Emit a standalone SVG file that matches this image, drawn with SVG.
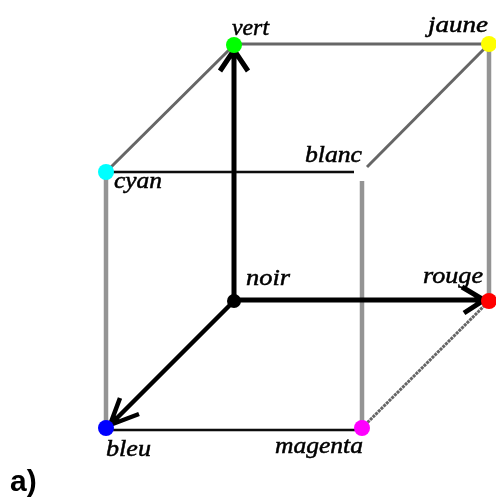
<svg xmlns="http://www.w3.org/2000/svg" width="496" height="497" viewBox="0 0 496 497">
<defs>
<filter id="soft" x="-5%" y="-5%" width="110%" height="110%"><feGaussianBlur stdDeviation="0.55"/></filter>
<style>
.g1{stroke:#949494;stroke-width:4.5;fill:none}
.g2{stroke:#666;stroke-width:3;fill:none}
.k1{stroke:#111;stroke-width:2.4;fill:none}
.ax{stroke:#000;stroke-width:5;fill:none}
.ax2{stroke:#000;stroke-width:4.5;fill:none}
.lb{font-family:"Liberation Serif",serif;font-style:italic;font-size:23px;fill:#000;stroke:#000;stroke-width:.5}
</style>
</defs>
<rect width="496" height="497" fill="#fff"/>
<g filter="url(#soft)">
<g id="connectors">
<path class="g2" d="M234 44H489"/>
<path class="g2" d="M106 172L234 45"/>
<path class="g2" d="M367 167L489 44"/>
<path class="g1" d="M489 44V301"/>
<path class="g1" d="M106 172V428"/>
<path class="g1" d="M362 181V428"/>
<path class="k1" d="M106 172H354"/>
<path class="k1" d="M106 430H362"/>
<path class="g2" d="M362 428L489 301" stroke-dasharray="3 .8"/>
<path class="ax" d="M234 301V50M220 71L234 50L248 71"/>
<path class="ax" d="M234 300H484M462 287L484 300L464 313"/>
<path class="ax2" d="M234 301L110 425M120 398L110 425L139 414"/>
</g>
<g id="vert"><circle cx="234" cy="45" r="8" fill="#00ff00"/><text class="lb" x="232" y="35" textLength="37" lengthAdjust="spacingAndGlyphs">vert</text></g>
<g id="jaune"><circle cx="489" cy="44" r="8" fill="#ffff00"/><text class="lb" x="428" y="32" textLength="60" lengthAdjust="spacingAndGlyphs">jaune</text></g>
<g id="cyan"><circle cx="106" cy="172" r="8" fill="#00ffff"/><text class="lb" x="114" y="188" textLength="48" lengthAdjust="spacingAndGlyphs">cyan</text></g>
<g id="blanc"><text class="lb" x="305" y="162" textLength="57" lengthAdjust="spacingAndGlyphs">blanc</text></g>
<g id="noir"><circle cx="234" cy="301" r="7" fill="#000"/><text class="lb" x="246" y="285" textLength="44" lengthAdjust="spacingAndGlyphs">noir</text></g>
<g id="rouge"><circle cx="489" cy="301" r="8" fill="#ff0000"/><text class="lb" x="423" y="283" textLength="60" lengthAdjust="spacingAndGlyphs">rouge</text></g>
<g id="bleu"><circle cx="106" cy="428" r="8" fill="#0000ff"/><text class="lb" x="106" y="456" textLength="45" lengthAdjust="spacingAndGlyphs">bleu</text></g>
<g id="magenta"><circle cx="362" cy="428" r="8" fill="#ff00ff"/><text class="lb" x="275" y="453" textLength="88" lengthAdjust="spacingAndGlyphs">magenta</text></g>
<text x="10" y="491" font-family="'Liberation Sans',Arial,sans-serif" font-weight="bold" font-size="30" fill="#000">a)</text>
</g>
</svg>
